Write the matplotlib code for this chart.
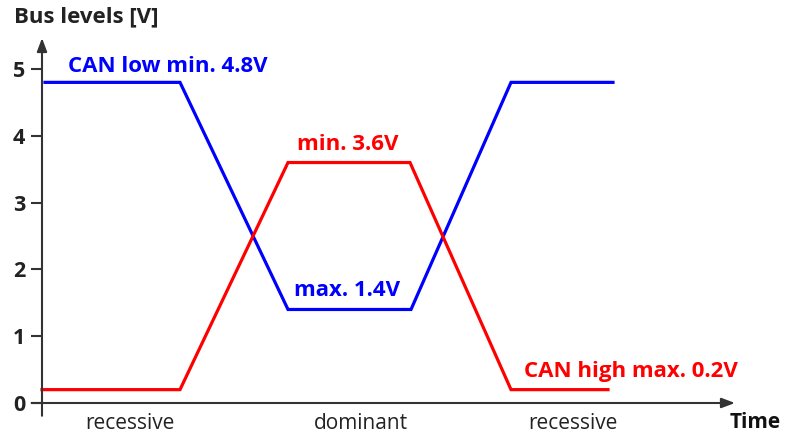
import matplotlib
matplotlib.use("Agg")
import matplotlib.pyplot as plt

# --- data ---
time_low = [0.03, 1.38, 2.46, 3.69, 4.69, 5.71]
can_low = [4.8, 4.8, 1.4, 1.4, 4.8, 4.8]
time_high = [0.0, 1.38, 2.46, 3.68, 4.69, 5.66]
can_high = [0.2, 0.2, 3.6, 3.6, 0.2, 0.2]
y_ticks = [0, 1, 2, 3, 4, 5]
phase_labels = ["recessive", "dominant", "recessive"]
phase_centers = [0.88, 3.19, 5.31]

W, H = 788, 437
fig = plt.figure(figsize=(W / 100, H / 100), dpi=100)
x0, x1, yb, yt = 42, 735, 403, 38
ax = fig.add_axes([x0 / W, 1 - yb / H, (x1 - x0) / W, (yb - yt) / H])
ax.set_xlim(0, (x1 - x0) / 100)
ax.set_ylim(0, (yb - yt) / 66.8)
for s in ax.spines.values():
    s.set_visible(False)
ax.set_xticks([])
fam = ["Open Sans", "DejaVu Sans"]
ax.set_yticks(y_ticks)
ax.set_yticklabels([str(t) for t in y_ticks], fontsize=15.5, fontweight="bold",
                   family=fam, color="#222222")
ax.tick_params(axis="y", length=8, width=1.5, color="#333333", pad=4)
ax.patch.set_alpha(0)

ac = "#333333"
# axes with arrows
ax.annotate("", xy=(0, 1.0), xytext=(0, -0.035), xycoords="axes fraction",
            arrowprops=dict(arrowstyle="-|>,head_length=0.8,head_width=0.3",
                            color=ac, lw=1.5, shrinkA=0, shrinkB=0))
ax.annotate("", xy=(1.0, 0), xytext=(-0.015, 0), xycoords="axes fraction",
            arrowprops=dict(arrowstyle="-|>,head_length=0.8,head_width=0.3",
                            color=ac, lw=1.5, shrinkA=0, shrinkB=0))

ax.plot(time_low, can_low, color="#0000ff", lw=2.3, solid_joinstyle="miter", clip_on=False)
ax.plot(time_high, can_high, color="#ff0000", lw=2.3, solid_joinstyle="miter", clip_on=False)

ax.text(0.26, 5.03, "CAN low min. 4.8V", color="#0000ff", fontsize=16, fontweight="bold",
        family=fam, ha="left", va="center")
ax.text(3.06, 3.71, "min. 3.6V", color="#ff0000", fontsize=16, fontweight="bold",
        family=fam, ha="center", va="bottom")
ax.text(3.05, 1.52, "max. 1.4V", color="#0000ff", fontsize=16, fontweight="bold",
        family=fam, ha="center", va="bottom")
ax.text(4.82, 0.47, "CAN high max. 0.2V", color="#ff0000", fontsize=16, fontweight="bold",
        family=fam, ha="left", va="center")

for c, lab in zip(phase_centers, phase_labels):
    ax.text(c, -0.31, lab, color="#222222", fontsize=15, family=fam, ha="center", va="center")
ax.text(7.13, -0.29, "Time", color="#111111", fontsize=15, fontweight="bold", family=fam,
        ha="center", va="center")
fig.text(14 / W, 1 - 17 / H, "Bus levels [V]", color="#222222", fontsize=16,
         fontweight="bold", family=fam, ha="left", va="center")

fig.savefig("out.png", dpi=100)
